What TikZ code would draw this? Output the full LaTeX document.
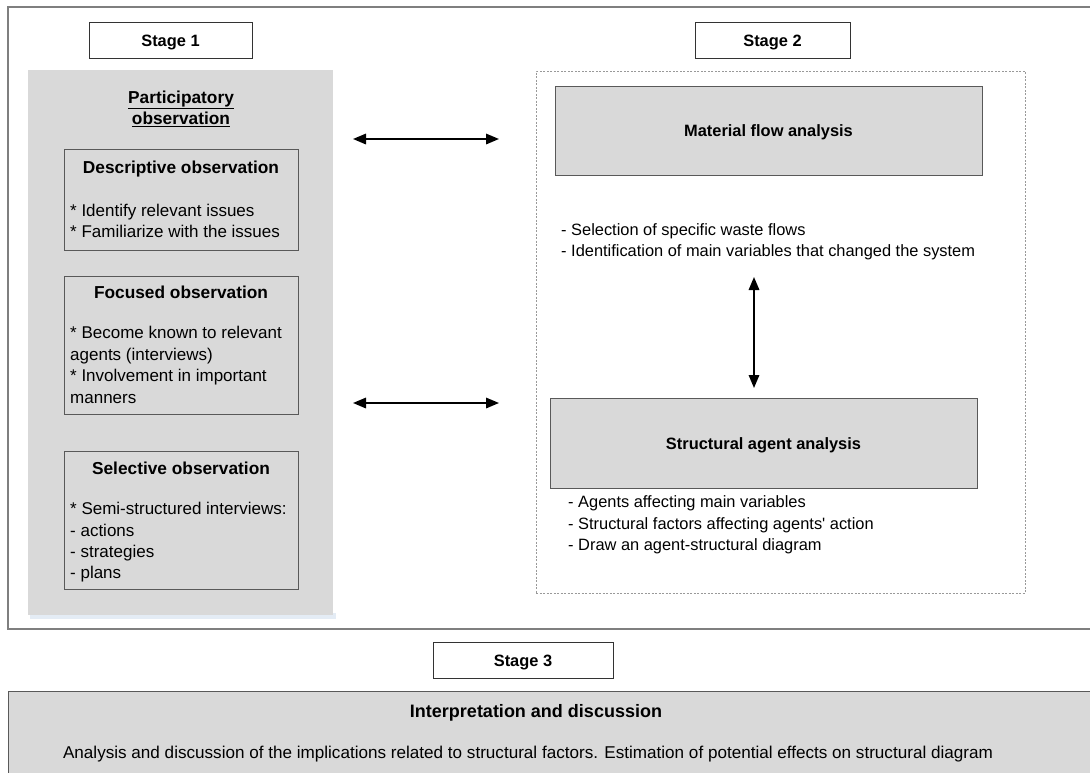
\documentclass[tikz,border=0pt]{standalone}
\usepackage{fontspec}
\setmainfont{Liberation Sans}
\usetikzlibrary{arrows.meta,positioning}
\definecolor{panelgrey}{HTML}{D9D9D9}
\definecolor{framegrey}{HTML}{7F7F7F}
\definecolor{boxline}{HTML}{595959}
\definecolor{glow}{HTML}{E4ECF5}
\newcommand{\fsz}{\fontsize{16.4}{21}\selectfont}
\newcommand{\fszl}{\fontsize{17}{21}\selectfont}
\newcommand{\fszt}{\fontsize{17.3}{21}\selectfont}

\tikzset{
  stagebox/.style={draw=black!80, fill=white, line width=0.9, minimum height=36, font=\fsz\bfseries, text height=12, text depth=0},
  greybox/.style={draw=boxline, fill=panelgrey, line width=0.9},
  title/.style={font=\fsz\bfseries, inner sep=0, yshift=-2pt},
  ltitle/.style={title, font=\fszt\bfseries},
  item/.style={font=\fsz, anchor=west, inner sep=0, text height=12, text depth=3.5, yshift=-1.5pt},
  litem/.style={item, font=\fszl},
  dblarrow/.style={{Triangle[length=13pt,width=10.5pt]}-{Triangle[length=13pt,width=10.5pt]}, line width=1.7},
}

\begin{document}
\begin{tikzpicture}[x=1pt,y=-1pt]
    \useasboundingbox (0,0) rectangle (1090,772);
    % frames and panels
    \node[draw=framegrey, line width=1.2, minimum width=1092, minimum height=622] (frame) at (554,318) {};
    \fill[glow] (30,613) rectangle (336,619);
    \node[fill=panelgrey, minimum width=305, minimum height=545, inner sep=0] (obs) at (180.5,342.5) {};
    \node[draw=black!40, dashed, dash pattern=on 2pt off 1.5pt, line width=0.6, minimum width=489, minimum height=522] (mixed) at (780.5,332) {};
    \node[greybox, minimum width=1092, minimum height=109] (disc) at (554,745.5) {};

    % stage labels
    \node[stagebox, minimum width=163] (st1) at (170.5,40) {Stage 1};
    \node[stagebox, minimum width=155] (st2) at (772.5,40) {Stage 2};
    \node[stagebox, minimum width=180] (st3) at (523,660) {Stage 3};

    % stage 1
    \node[ltitle, align=center] (part) at (181,106.5) {\underline{Participatory}\\\underline{observation}};
    \node[greybox, minimum width=234, minimum height=101] (descr) at (181,199.5) {};
    \node[greybox, minimum width=234, minimum height=138] (focus) at (181,345) {};
    \node[greybox, minimum width=234, minimum height=138] (selec) at (181,520) {};
    \node[ltitle] (descr-t) at (181,167) {Descriptive observation};
    \node[ltitle] (focus-t) at (181,290) {Focused observation};
    \node[ltitle] (selec-t) at (181,466) {Selective observation};
    \foreach \t [count=\i] in {* Identify relevant issues, * Familiarize with the issues}
      \node[litem] (descr-\i) at (70,{211+20.5*(\i-1)}) {\t};
    \foreach \t [count=\i] in {* Become known to relevant, agents (interviews), * Involvement in important, manners}
      \node[litem] (focus-\i) at (70,{333+21.5*(\i-1)}) {\t};
    \foreach \t [count=\i] in {* Semi-structured interviews:, - actions, - strategies, - plans}
      \node[litem] (selec-\i) at (70,{509+21.3*(\i-1)}) {\t};

    % stage 2
    \node[greybox, minimum width=427, minimum height=89] (mfa) at (768.5,130.5) {};
    \node[title] (mfa-t) at (mfa.center) {Material flow analysis};
    \node[greybox, minimum width=427, minimum height=90] (saa) at (763.5,443) {};
    \node[title] (saa-t) at (saa.center) {Structural agent analysis};
    \foreach \t [count=\i] in {- Selection of specific waste flows, - Identification of main variables that changed the system}
      \node[item] (mfa-\i) at (561,{230+20.5*(\i-1)}) {\t};
    \foreach \t [count=\i] in {- Agents affecting main variables, - Structural factors affecting agents\textquotesingle{} action, - Draw an agent-structural diagram}
      \node[item] (saa-\i) at (568,{502+21.5*(\i-1)}) {\t};

    % stage 3
    \node[title, font=\fontsize{18}{21}\selectfont\bfseries] (disc-t) at (536,711) {Interpretation and discussion};
    \node[font=\fontsize{17.1}{21}\selectfont, inner sep=0, yshift=-1.5pt] (disc-1) at (528,753) {Analysis and discussion of the implications related to structural factors. Estimation of potential effects on structural diagram};

    % links
    \coordinate (la) at (353,139);
    \coordinate (ra) at (499,139);
    \coordinate (lb) at (353,403);
    \coordinate (rb) at (499,403);
    \coordinate (ua) at (754,277);
    \coordinate (da) at (754,388);
    \draw[dblarrow] (la) -- (ra);
    \draw[dblarrow] (lb) -- (rb);
    \draw[dblarrow] (ua) -- (da);
\end{tikzpicture}
\end{document}
